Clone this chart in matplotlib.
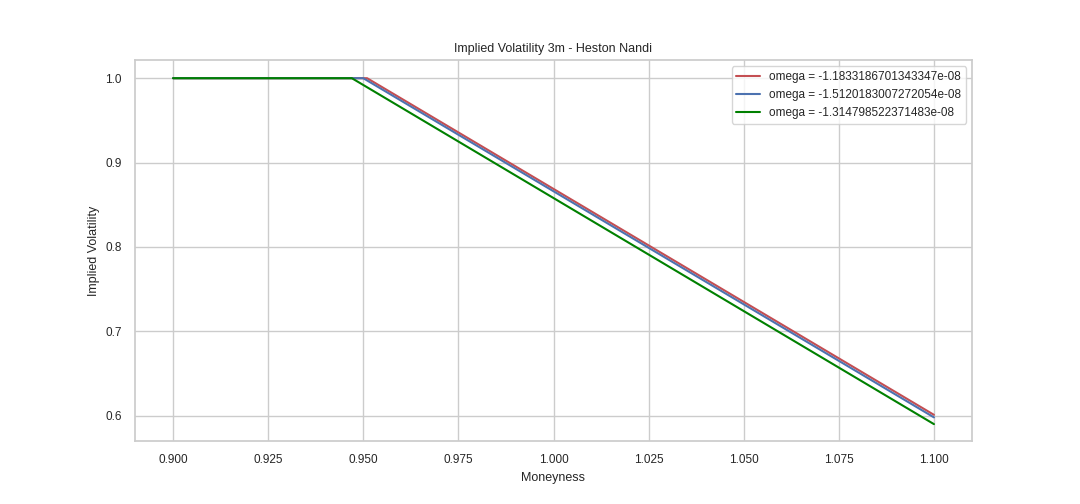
import matplotlib
matplotlib.use("Agg")
import matplotlib.pyplot as plt
import seaborn as sns

sns.set_theme(style="whitegrid", color_codes=True)
plt.rcParams['font.family'] = ['Liberation Sans', 'DejaVu Sans']

# breakpoints of each implied vol curve (flat at 1.0, then falling)
moneyness_red = [0.900, 0.951, 1.100]
iv_red = [1.0, 1.0, 0.601]
moneyness_blue = [0.900, 0.950, 1.100]
iv_blue = [1.0, 1.0, 0.598]
moneyness_green = [0.900, 0.947, 1.100]
iv_green = [1.0, 1.0, 0.590]

labels = ["omega = -1.1833186701343347e-08",
          "omega = -1.5120183007272054e-08",
          "omega = -1.314798522371483e-08"]

fig, ax = plt.subplots(figsize=(10.8, 5.04), dpi=100)
fig.subplots_adjust(left=0.125, right=0.9, top=0.88, bottom=0.125)
ax.plot(moneyness_red, iv_red, color="r", label=labels[0])
ax.plot(moneyness_blue, iv_blue, color="b", label=labels[1])
ax.plot(moneyness_green, iv_green, color="green", label=labels[2])

ax.set_title("Implied Volatility 3m - Heston Nandi", fontsize=9)
ax.set_xlabel("Moneyness", fontsize=9)
ax.set_ylabel("Implied Volatility", fontsize=9)
ax.tick_params(labelsize=8.5)
ax.set_xticks([0.9, 0.925, 0.95, 0.975, 1.0, 1.025, 1.05, 1.075, 1.1])
ax.set_xticklabels(["%.3f" % t for t in ax.get_xticks()])
ax.set_yticks([0.6, 0.7, 0.8, 0.9, 1.0])
ax.set_yticklabels(["%.1f" % t for t in ax.get_yticks()])
ax.set_ylim(0.570, 1.021)
ax.legend(loc="upper right", fontsize=8.5)

plt.savefig("out.png", dpi=100)
